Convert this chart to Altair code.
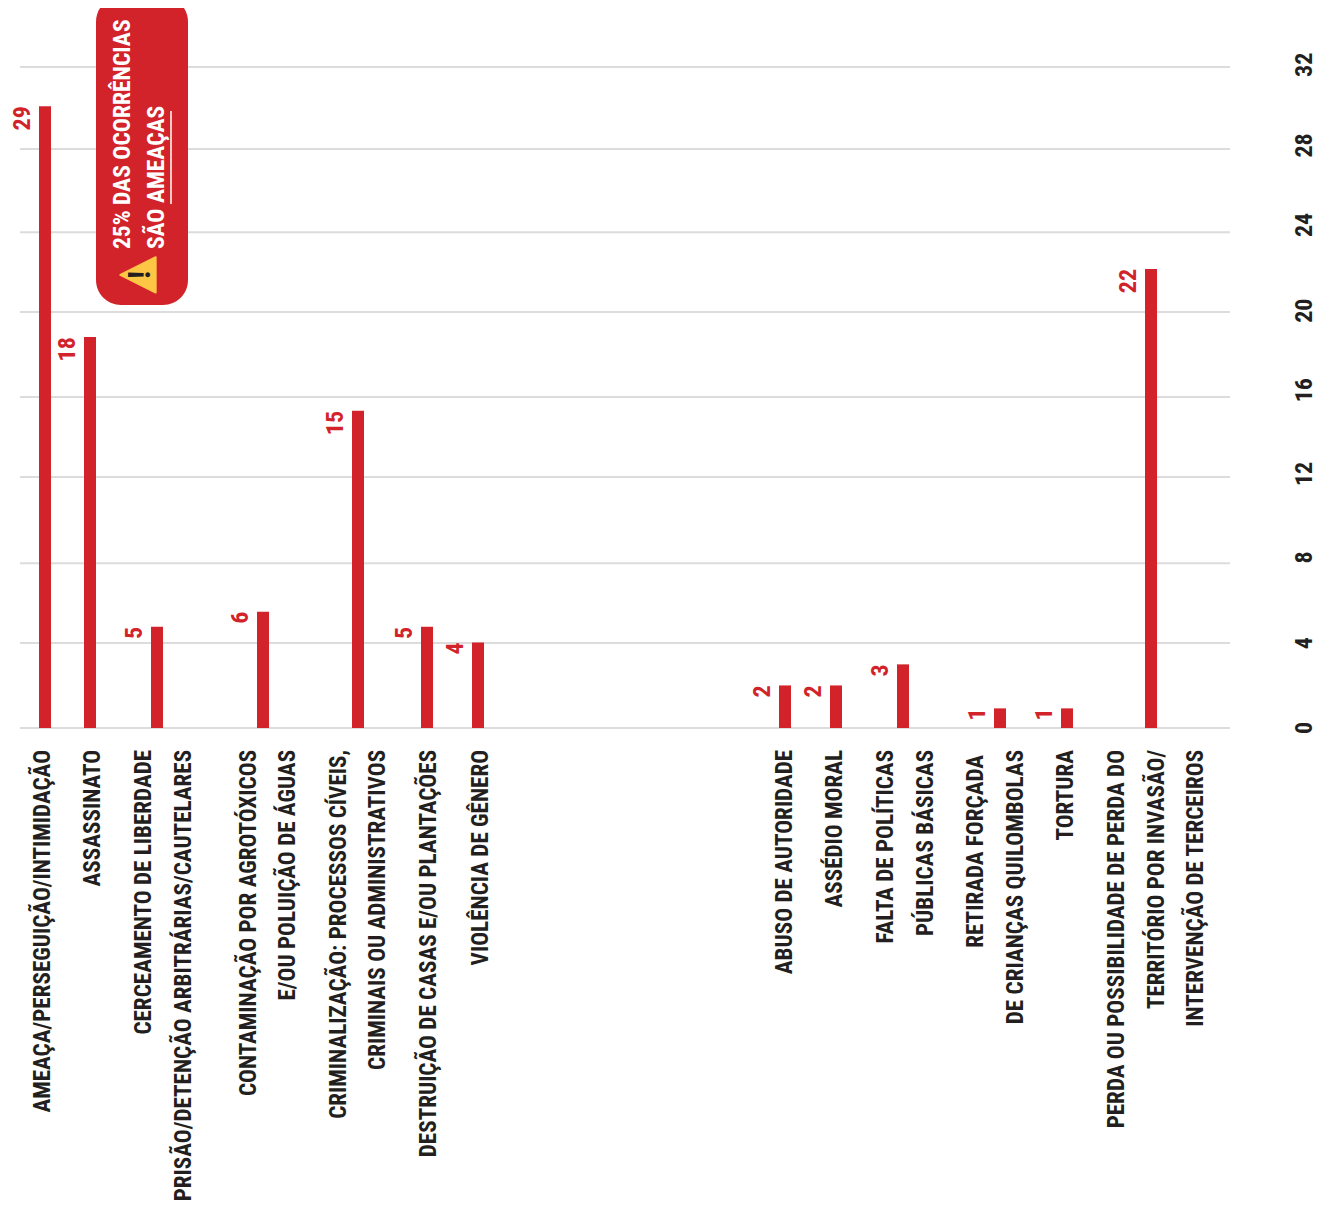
import altair as alt
import pandas as pd

FONT = "Roboto Condensed, Roboto"
RED = "#D2232A"
INK = "#231F20"
GRID = "#DCDCDC"
W = 1311
H = 1196

# bars
bar_pos = [45, 90, 157, 263, 358, 427, 478, 785, 836, 903, 1000, 1067, 1151]
bar_val = [30.1, 18.92, 4.9, 5.63, 15.35, 4.9, 4.14, 2.06, 2.06, 3.08, 0.95, 0.95, 22.22]
bar_lab = ["29", "18", "5", "6", "15", "5", "4", "2", "2", "3", "1", "1", "22"]

# category text lines
line_pos = [43, 93, 144, 184, 249, 288, 339, 378, 429, 481, 785, 835, 886, 926, 976, 1016, 1066, 1117, 1157, 1196]
line_end = [-1.06] * 20
line_end[14] = -1.3
line_txt = [
    "AMEAÇA/PERSEGUIÇÃO/INTIMIDAÇÃO", "ASSASSINATO", "CERCEAMENTO DE LIBERDADE",
    "PRISÃO/DETENÇÃO ARBITRÁRIAS/CAUTELARES", "CONTAMINAÇÃO POR AGROTÓXICOS",
    "E/OU POLUIÇÃO DE ÁGUAS", "CRIMINALIZAÇÃO: PROCESSOS CÍVEIS,",
    "CRIMINAIS OU ADMINISTRATIVOS", "DESTRUIÇÃO DE CASAS E/OU PLANTAÇÕES",
    "VIOLÊNCIA DE GÊNERO", "ABUSO DE AUTORIDADE", "ASSÉDIO MORAL", "FALTA DE POLÍTICAS",
    "PÚBLICAS BÁSICAS", "RETIRADA FORÇADA", "DE CRIANÇAS QUILOMBOLAS", "TORTURA",
    "PERDA OU POSSIBILIDADE DE PERDA DO", "TERRITÓRIO POR INVASÃO/", "INTERVENÇÃO DE TERCEIROS",
]

# gridlines and tick labels
grid_val = [0, 4.11, 7.98, 12.15, 16.02, 20.14, 24.0, 28.02, 31.99]
tick_val = [0, 4.11, 8.25, 12.3, 16.35, 20.2, 24.35, 28.2, 32.1]
tick_lab = ["0", "4", "8", "12", "16", "20", "24", "28", "32"]
tick_x = [1305] * 9
grid_from = [20] * 9
grid_to = [1230] * 9

# callout
box = pd.DataFrame({"x": [96], "x2": [188], "y": [35.4], "y2": [20.47]})
call_x = [123, 157]
call_y = [23.18, 23.18]
call_txt = ["25% DAS OCORRÊNCIAS", "SÃO AMEAÇAS"]

X = alt.Scale(domain=[8, 8 + W], range=[0, W], nice=False, zero=False, padding=0)
Y = alt.Scale(domain=[-(H - 720) / 20.66, 720 / 20.66], range=[H, 0], nice=False, zero=False, padding=0)
x = lambda f: alt.X(f, type="quantitative", scale=X, axis=None)
y = lambda f: alt.Y(f, type="quantitative", scale=Y, axis=None)

bars = pd.DataFrame({"p": bar_pos, "v": bar_val, "l": bar_lab, "z": [0] * len(bar_pos)})
lines = pd.DataFrame({"p": line_pos, "e": line_end, "t": line_txt})
grid = pd.DataFrame({"a": grid_from, "b": grid_to, "v": grid_val})
ticks = pd.DataFrame({"p": tick_x, "v": tick_val, "l": tick_lab})
calls = pd.DataFrame({"p": call_x, "v": call_y, "t": call_txt})
under = pd.DataFrame({"a": [171], "v": [25.36], "v2": [29.86]})
warn = pd.DataFrame({"p": [138], "v": [21.93]})
bang = pd.DataFrame({"p": [140], "v": [21.93], "t": ["!"]})

grid_l = alt.Chart(grid).mark_rule(color=GRID, strokeWidth=2).encode(x=x("a"), x2="b", y=y("v"))
bar_l = alt.Chart(bars).mark_bar(color=RED, size=12).encode(x=x("p"), y=y("v"), y2="z")
val_l = alt.Chart(bars).mark_text(font=FONT, fontWeight="bold", fontSize=24, color=RED, angle=270,
                                  align="right", baseline="middle", dy=-22).encode(x=x("p"), y=y("v"), text="l")
line_l = alt.Chart(lines).mark_text(font=FONT, fontWeight="bold", fontSize=23.1, color=INK, angle=270,
                                    align="right", baseline="middle").encode(x=x("p"), y=y("e"), text="t")
tick_l = alt.Chart(ticks).mark_text(font=FONT, fontWeight="bold", fontSize=24, color=INK, angle=270,
                                    align="center", baseline="middle").encode(x=x("p"), y=y("v"), text="l")
box_l = alt.Chart(box).mark_rect(color=RED, cornerRadius=25).encode(x=x("x"), x2="x2", y=y("y"), y2="y2")
call_l = alt.Chart(calls).mark_text(font=FONT, fontWeight="bold", fontSize=23.5, color="white", angle=270,
                                    align="left", baseline="middle").encode(x=x("p"), y=y("v"), text="t")
und_l = alt.Chart(under).mark_rule(color="white", strokeWidth=1.5).encode(x=x("a"), y=y("v"), y2="v2")
tri_l = alt.Chart(warn).mark_point(shape="M1,-1 L1,1 L-1,0 Z", filled=True, size=1250, color="#FDC745", opacity=1,
                                   stroke="#FDC745", strokeWidth=2, strokeJoin="round").encode(x=x("p"), y=y("v"))
bang_l = alt.Chart(bang).mark_text(font=FONT, fontWeight="bold", fontSize=32, color=INK, angle=270,
                                   align="center", baseline="middle").encode(x=x("p"), y=y("v"), text="t")

chart = alt.layer(grid_l, bar_l, val_l, line_l, tick_l, box_l, call_l, und_l, tri_l, bang_l).properties(
    width=W, height=H, padding=0, background="white",
    autosize=alt.AutoSizeParams(type="none"),
).configure_view(stroke=None)

chart.save("out.html", embed_options={"renderer": "svg", "actions": False})
